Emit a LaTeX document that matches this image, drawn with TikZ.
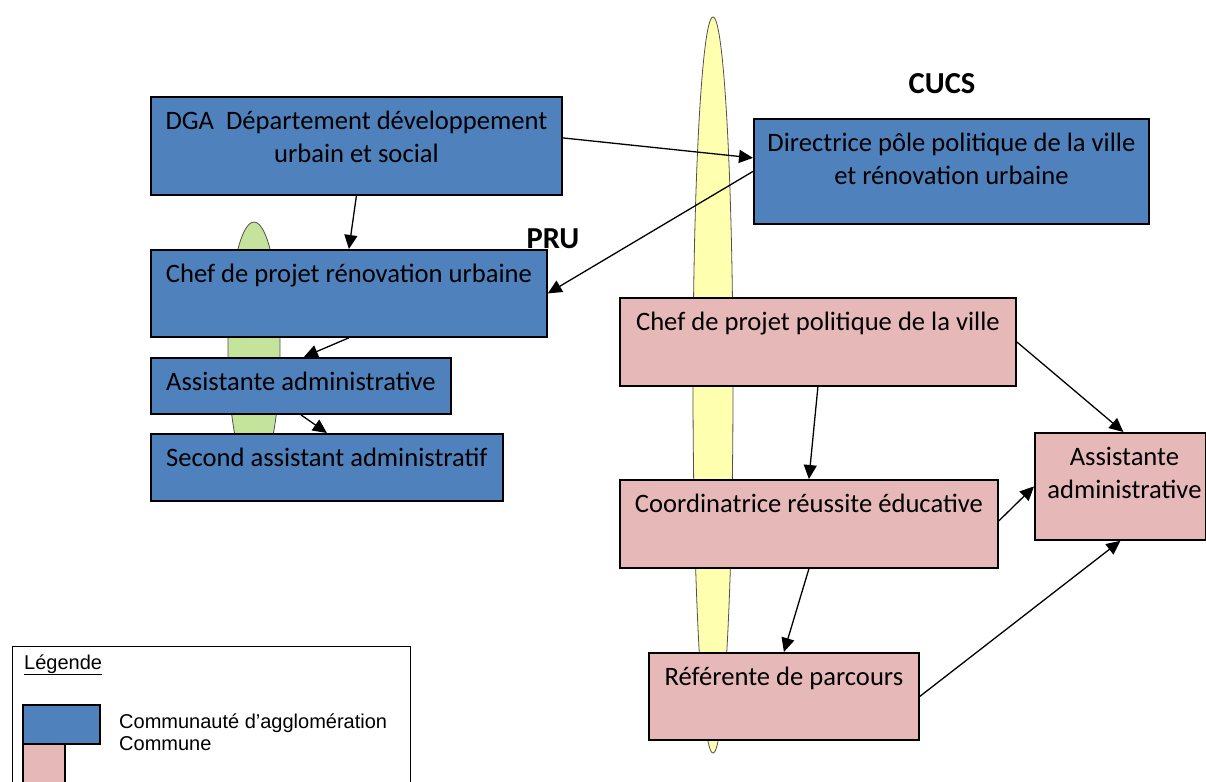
\documentclass[tikz,border=0pt]{standalone}
\usepackage{fontspec}
\setmainfont{Carlito}
\newfontfamily\legfont{Liberation Sans}
\usetikzlibrary{arrows.meta,shapes.geometric,calc}
\definecolor{bluebox}{HTML}{4F81BD}
\definecolor{pinkbox}{HTML}{E6B9B8}
\definecolor{yellowell}{HTML}{FFFFB0}
\definecolor{greenell}{HTML}{C4E49C}
\definecolor{ellline}{HTML}{505050}
\newcommand\onel[3]{\vbox to #2{\hbox to #1{\hss\rule{0pt}{33pt}#3\hss}\vss}}
\newcommand\twol[4]{\vbox to #2{\hbox to #1{\hss\rule{0pt}{33pt}#3\hss}\hbox to #1{\hss#4\hss}\vss}}
\begin{document}
\begin{tikzpicture}[x=1pt,y=-1pt,
  orgbox/.style={draw=black, line width=1.8pt, inner sep=0pt, anchor=north west,
    font=\fontsize{26.6}{32.5}\selectfont},
  bluefill/.style={orgbox, fill=bluebox},
  pinkfill/.style={orgbox, fill=pinkbox},
  conn/.style={line width=1.3pt, -{Triangle[length=14pt,width=13pt]}},
  ell/.style={ellipse, draw=ellline, line width=0.8pt, inner sep=0pt},
  boldlab/.style={font=\fontsize{30.5}{34}\selectfont\bfseries, inner sep=0pt, anchor=base},
  legtxt/.style={font=\legfont\fontsize{20}{22}\selectfont, inner sep=0pt, anchor=base west},
  legrect/.style={draw=black, line width=1.6pt, inner sep=0pt, anchor=north west}
]
\useasboundingbox (0,0) rectangle (1206,781);

% ellipses (behind)
\node[ell, fill=greenell, minimum width=52pt, minimum height=254pt] (green) at (254,349) {};
\node[ell, fill=yellowell, minimum width=40pt, minimum height=736pt] (yellow) at (713,385) {};

% blue boxes
\node[bluefill] (dga) at (150,96) {\twol{411pt}{98pt}{DGA~~Département développement}{urbain et social}};
\node[bluefill] (chefru) at (150,249) {\onel{396pt}{87pt}{Chef de projet rénovation urbaine}};
\node[bluefill] (asl) at (150,357) {\onel{300pt}{56pt}{Assistante administrative}};
\node[bluefill] (sec) at (150,433) {\onel{352pt}{67pt}{Second assistant administratif}};
\node[bluefill] (dir) at (753,118) {\twol{395pt}{105pt}{Directrice pôle politique de la ville}{et rénovation urbaine}};

% pink boxes
\node[pinkfill] (cpv) at (619,297) {\onel{396pt}{88pt}{Chef de projet politique de la ville}};
\node[pinkfill] (coord) at (619,479) {\onel{378pt}{88pt}{Coordinatrice réussite éducative}};
\node[pinkfill] (asr) at (1034,432) {\twol{171pt}{107pt}{\hspace*{8pt}Assistante}{\hspace*{8pt}administrative}};
\node[pinkfill] (ref) at (648,652) {\onel{270pt}{87pt}{Référente de parcours}};

% labels
\node[boldlab] (cucs) at (942,94) {CUCS};
\node[boldlab] (pru) at (553,248) {PRU};

% connectors
\draw[conn] ([yshift=8pt]dga.east) -- ([yshift=13.5pt]dir.west);
\draw[conn] (dga.south) -- (chefru.north);
\draw[conn] (dir.west) -- (chefru.east);
\draw[conn] (chefru.south) -- ([xshift=3pt]asl.north);
\draw[conn] (asl.south) -- (sec.north);
\draw[conn] (cpv.south) -- (coord.north);
\draw[conn] (cpv.east) -- ([xshift=3pt]asr.north);
\draw[conn] ([yshift=3pt]coord.east) -- (asr.west);
\draw[conn] (coord.south) -- (ref.north);
\draw[conn] (ref.east) -- (asr.south);

% legend
\node[draw=black, line width=1.4pt, inner sep=0pt, anchor=north west, minimum width=398pt, minimum height=160pt] (leg) at (12,646) {};
\node[legtxt] (legt) at (24,669) {\underline{Légende}};
\node[legrect, fill=bluebox, minimum width=77pt, minimum height=39pt] (legblue) at (22,704) {};
\node[legrect, fill=pinkbox, minimum width=42pt, minimum height=50pt] (legpink) at (22,743) {};
\node[legtxt] (leg1) at (119,728) {Communauté d’agglomération};
\node[legtxt] (leg2) at (119,750) {Commune};
\end{tikzpicture}
\end{document}
